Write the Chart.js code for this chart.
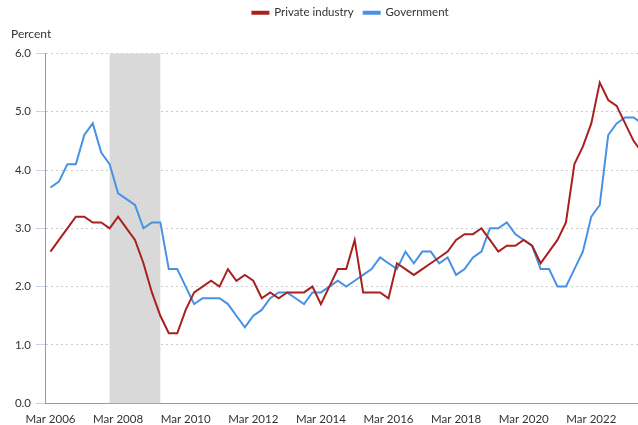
<!DOCTYPE html>
<html>
<head>
<meta charset="utf-8">
<script src="https://cdn.jsdelivr.net/npm/chart.js@4.4.0/dist/chart.umd.min.js"></script>
<style>
  html, body { margin: 0; padding: 0; background: #fff; overflow: hidden; }
  #wrap { width: 638px; height: 425px; overflow: hidden; }
  #box { width: 690px; height: 425px; }
</style>
</head>
<body>
<div id="wrap"><div id="box"><canvas id="rate-chart"></canvas></div></div>
<script>
// quarterly values, index 0 = Mar 2006
const privateIndustry = [2.6, 2.8, 3.0, 3.2, 3.2, 3.1, 3.1, 3.0, 3.2, 3.0,
  2.8, 2.4, 1.9, 1.5, 1.2, 1.2, 1.6, 1.9, 2.0, 2.1,
  2.0, 2.3, 2.1, 2.2, 2.1, 1.8, 1.9, 1.8, 1.9, 1.9,
  1.9, 2.0, 1.7, 2.0, 2.3, 2.3, 2.8, 1.9, 1.9, 1.9,
  1.8, 2.4, 2.3, 2.2, 2.3, 2.4, 2.5, 2.6, 2.8, 2.9,
  2.9, 3.0, 2.8, 2.6, 2.7, 2.7, 2.8, 2.7, 2.4, 2.6,
  2.8, 3.1, 4.1, 4.4, 4.8, 5.5, 5.2, 5.1, 4.8, 4.5, 4.3];
const government = [3.7, 3.8, 4.1, 4.1, 4.6, 4.8, 4.3, 4.1, 3.6, 3.5,
  3.4, 3.0, 3.1, 3.1, 2.3, 2.3, 2.0, 1.7, 1.8, 1.8,
  1.8, 1.7, 1.5, 1.3, 1.5, 1.6, 1.8, 1.9, 1.9, 1.8,
  1.7, 1.9, 1.9, 2.0, 2.1, 2.0, 2.1, 2.2, 2.3, 2.5,
  2.4, 2.3, 2.6, 2.4, 2.6, 2.6, 2.4, 2.5, 2.2, 2.3,
  2.5, 2.6, 3.0, 3.0, 3.1, 2.9, 2.8, 2.7, 2.3, 2.3,
  2.0, 2.0, 2.3, 2.6, 3.2, 3.4, 4.6, 4.8, 4.9, 4.9, 4.8];
const tickLabels = ['Mar 2006', 'Mar 2008', 'Mar 2010', 'Mar 2012', 'Mar 2014',
  'Mar 2016', 'Mar 2018', 'Mar 2020', 'Mar 2022'];
const tickQuarters = [0, 8, 16, 24, 32, 40, 48, 56, 64];
const recession = [7, 13]; // Dec 2007 - Jun 2009

const toPoints = arr => arr.map((v, i) => ({x: i, y: v}));

const recessionBand = {
  id: 'recessionBand',
  beforeDatasetsDraw(chart) {
    const {ctx, chartArea, scales: {x}} = chart;
    const x1 = x.getPixelForValue(recession[0]);
    const x2 = x.getPixelForValue(recession[1]);
    ctx.save();
    ctx.fillStyle = '#d9d9d9';
    ctx.fillRect(x1, chartArea.top, x2 - x1, chartArea.bottom - chartArea.top);
    ctx.restore();
  }
};

Chart.defaults.font.family = 'Lato';
Chart.defaults.font.size = 11.5;
Chart.defaults.color = '#333';

const ctx = document.getElementById('rate-chart').getContext('2d');
const rateChart = new Chart(ctx, {
  type: 'line',
  plugins: [recessionBand],
  data: {
    datasets: [{
      label: 'Private industry',
      data: toPoints(privateIndustry),
      borderColor: '#a8201f',
      backgroundColor: '#a8201f',
      borderWidth: 2,
      pointRadius: 0,
      tension: 0
    }, {
      label: 'Government',
      data: toPoints(government),
      borderColor: '#4792e2',
      backgroundColor: '#4792e2',
      borderWidth: 2,
      pointRadius: 0,
      tension: 0
    }]
  },
  options: {
    responsive: true,
    maintainAspectRatio: false,
    animation: false,
    layout: {
      padding: {left: 11, right: 0, top: -3, bottom: -10}
    },
    scales: {
      x: {
        type: 'linear',
        min: -0.65,
        max: 75.68,
        grid: {display: false, drawTicks: false},
        border: {display: true, color: '#999', width: 1},
        afterBuildTicks: s => { s.ticks = tickQuarters.map(v => ({value: v})); },
        ticks: {
          autoSkip: false,
          maxRotation: 0,
          padding: 9,
          callback: (v, i) => tickLabels[i]
        }
      },
      y: {
        min: 0,
        max: 6,
        afterFit: s => { s.width = 34; },
        ticks: {
          stepSize: 1,
          padding: 5,
          callback: v => v.toFixed(1)
        },
        grid: {color: '#cccccc', tickColor: '#c3d3ea', tickLength: 9},
        border: {display: true, color: '#999', dash: [2, 3]}
      }
    },
    plugins: {
      legend: {
        position: 'top',
        maxHeight: 26,
        labels: {boxWidth: 16, boxHeight: 2, padding: 10}
      },
      title: {
        display: true,
        text: 'Percent',
        align: 'start',
        weight: 500,
        font: {size: 12, weight: 'normal'},
        padding: {top: 4, bottom: 12}
      },
      tooltip: {enabled: false}
    }
  }
});
</script>
</body>
</html>
